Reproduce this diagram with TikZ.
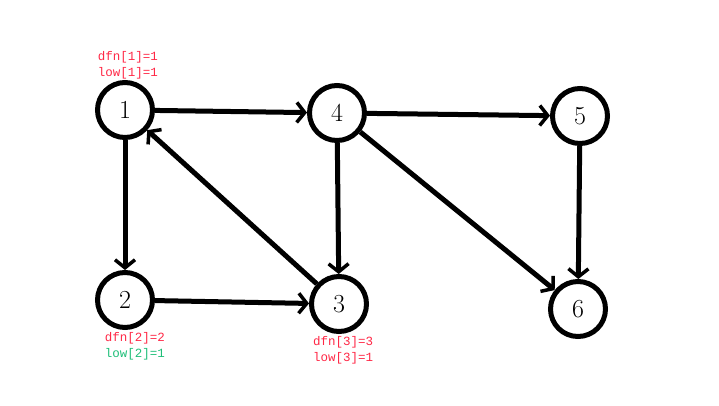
\documentclass[tikz,border=0pt]{standalone}
\usepackage{fontspec}
\newfontfamily\codefont{Liberation Mono}
\usetikzlibrary{arrows.meta}
\definecolor{dfnred}{RGB}{255,40,70}
\definecolor{lowgreen}{RGB}{30,190,120}
\begin{document}
\begin{tikzpicture}[x=1pt, y=-1pt,
    vertex/.style={circle, draw, line width=5pt, minimum size=55pt, inner sep=0pt, font=\fontsize{26}{26}\selectfont},
    edge/.style={line width=5pt, -{Straight Barb[length=8pt, width=20pt, line width=3.5pt]}},
    info/.style={font=\codefont\fontsize{12.5}{16}\selectfont, inner sep=0pt}]
    \useasboundingbox (0,0) rectangle (719,405);

    % Vertices
    \node[vertex] (v1) at (125,110) {1};
    \node[vertex] (v4) at (337,113) {4};
    \node[vertex] (v5) at (580,116) {5};
    \node[vertex] (v2) at (125,300) {2};
    \node[vertex] (v3) at (339,304) {3};
    \node[vertex] (v6) at (578,309) {6};

    % Edges
    \draw[edge] (v1) -- (v4);
    \draw[edge] (v4) -- (v5);
    \draw[edge] (v5) -- (v6);
    \draw[edge] (v4) -- (v3);
    \draw[edge] (v4) -- (v6);
    \draw[edge] (v1) -- (v2);
    \draw[edge] (v2) -- (v3);
    \draw[edge] (v3) -- (v1);

    % dfn / low values
    \node[info, text=dfnred] (d1) at (128,57) {dfn[1]=1};
    \node[info, text=dfnred] (l1) at (128,73) {low[1]=1};
    \node[info, text=dfnred] (d2) at (135,338) {dfn[2]=2};
    \node[info, text=lowgreen] (l2) at (135,354) {low[2]=1};
    \node[info, text=dfnred] (d3) at (343,342) {dfn[3]=3};
    \node[info, text=dfnred] (l3) at (343,358) {low[3]=1};
\end{tikzpicture}
\end{document}
